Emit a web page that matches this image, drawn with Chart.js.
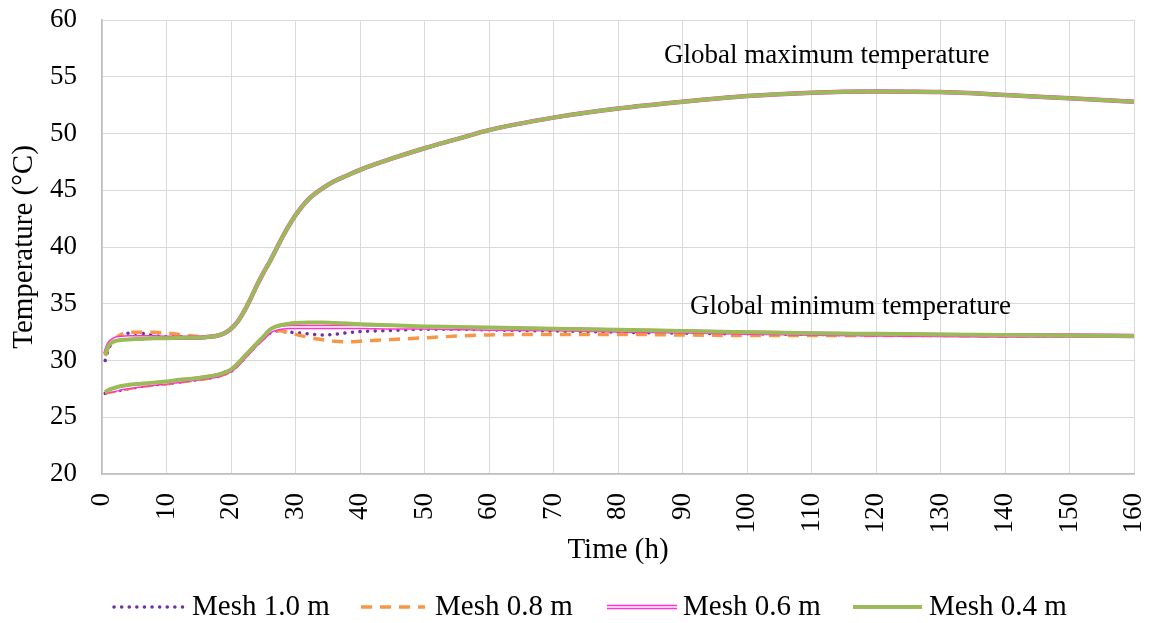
<!DOCTYPE html>
<html><head><meta charset="utf-8">
<script src="https://cdn.jsdelivr.net/npm/chart.js@4.4.1/dist/chart.umd.min.js"></script>
<style>html,body{margin:0;padding:0;background:#fff}canvas{display:block}</style>
</head><body>
<canvas id="c" width="1156" height="623"></canvas>
<script>
const hours = [0.5,1,2,3,4,6,8,10,12,14,16,18,19,20,21,22,23,24,25,26,27,28,29,30,32,34,36,38,40,45,50,55,60,70,80,90,100,110,120,130,140,150,160];
const xTickValues = [0,10,20,30,40,50,60,70,80,90,100,110,120,130,140,150,160];
const yTickValues = [20,25,30,35,40,45,50,55,60];
const seriesNames = ['Mesh 1.0 m','Mesh 0.8 m','Mesh 0.6 m','Mesh 0.4 m'];
const annotationMax = 'Global maximum temperature';
const annotationMin = 'Global minimum temperature';

const maxMesh10 = [30.0,31.0,31.8,32.2,32.4,32.4,32.2,32.1,32.1,32.05,32.1,32.2,32.4,32.8,33.4,34.3,35.4,36.6,37.7,38.7,39.8,40.9,41.9,42.8,44.2,45.1,45.8,46.3,46.8,47.8,48.7,49.5,50.3,51.4,52.2,52.8,53.3,53.6,53.7,53.65,53.4,53.1,52.8];
const maxMesh08 = [30.4,31.2,31.9,32.3,32.45,32.5,32.5,32.4,32.3,32.15,32.1,32.2,32.4,32.8,33.4,34.3,35.4,36.6,37.7,38.7,39.8,40.9,41.9,42.8,44.2,45.1,45.8,46.3,46.8,47.8,48.7,49.5,50.3,51.4,52.2,52.8,53.3,53.6,53.7,53.65,53.4,53.1,52.8];
const maxMesh06 = [30.6,31.4,31.9,32.0,32.05,32.05,32.05,32.0,32.0,32.0,32.05,32.2,32.4,32.8,33.4,34.3,35.4,36.6,37.7,38.7,39.8,40.9,41.9,42.8,44.2,45.1,45.8,46.3,46.8,47.8,48.7,49.5,50.3,51.4,52.2,52.8,53.3,53.6,53.7,53.65,53.4,53.1,52.8];
const maxMesh04 = [30.5,31.3,31.7,31.8,31.85,31.9,31.95,31.95,32.0,32.0,32.05,32.2,32.4,32.8,33.4,34.3,35.4,36.6,37.7,38.7,39.8,40.9,41.9,42.8,44.2,45.1,45.8,46.3,46.8,47.8,48.7,49.5,50.3,51.4,52.2,52.8,53.3,53.6,53.7,53.65,53.4,53.1,52.8];

const minMesh10 = [27.1,27.2,27.3,27.4,27.5,27.7,27.85,27.95,28.1,28.25,28.4,28.6,28.8,29.05,29.55,30.15,30.8,31.4,31.95,32.4,32.6,32.55,32.5,32.45,32.35,32.25,32.3,32.45,32.55,32.65,32.75,32.75,32.7,32.6,32.5,32.4,32.35,32.3,32.25,32.2,32.2,32.2,32.15];
const minMesh08 = [27.1,27.2,27.3,27.4,27.5,27.7,27.85,27.95,28.1,28.25,28.4,28.6,28.8,29.05,29.55,30.15,30.8,31.4,31.95,32.5,32.65,32.6,32.45,32.3,32.05,31.85,31.7,31.65,31.7,31.85,32.0,32.15,32.25,32.3,32.3,32.25,32.2,32.2,32.2,32.2,32.15,32.15,32.15];
const minMesh06 = [27.2,27.3,27.4,27.55,27.65,27.8,27.95,28.05,28.2,28.35,28.5,28.7,28.9,29.15,29.65,30.25,30.85,31.45,32.0,32.55,32.8,32.9,32.95,32.95,32.95,32.95,32.95,32.95,32.95,32.9,32.9,32.85,32.8,32.75,32.65,32.55,32.45,32.35,32.3,32.25,32.2,32.2,32.15];
const minMesh04 = [27.2,27.4,27.6,27.75,27.85,27.95,28.05,28.15,28.3,28.4,28.55,28.75,28.95,29.2,29.7,30.3,30.9,31.5,32.1,32.7,33.0,33.15,33.25,33.3,33.35,33.35,33.3,33.25,33.2,33.1,33.0,32.95,32.9,32.8,32.7,32.6,32.5,32.4,32.35,32.3,32.25,32.2,32.15];

const FONT = "'Liberation Serif', 'Times New Roman', serif";
const C10 = '#7030a0', C08 = '#f79646', C06 = '#ff33cc', C04 = '#9bbb59';

function pts(arr){ return hours.map((h,i)=>({x:h,y:arr[i]})); }
const base = {pointRadius:0, fill:false, cubicInterpolationMode:'monotone'};
const s10 = {borderColor:C10, borderWidth:3.5, borderDash:[0.1,7.5], borderCapStyle:'round', order:4};
const s08 = {borderColor:C08, borderWidth:3.5, borderDash:[11,8], borderCapStyle:'butt', order:3};
const s06 = {borderColor:C06, borderWidth:4.5, order:2};
const s06w = {borderColor:'#ffffff', borderWidth:1.5, order:1};
const s04 = {borderColor:C04, borderWidth:4, order:0};

const datasets = [
  Object.assign({label:seriesNames[0], data:pts(maxMesh10)}, base, s10),
  Object.assign({label:seriesNames[0], data:pts(minMesh10)}, base, s10),
  Object.assign({label:seriesNames[1], data:pts(maxMesh08)}, base, s08),
  Object.assign({label:seriesNames[1], data:pts(minMesh08)}, base, s08),
  Object.assign({label:seriesNames[2], data:pts(maxMesh06)}, base, s06),
  Object.assign({label:seriesNames[2], data:pts(minMesh06)}, base, s06),
  Object.assign({label:'', data:pts(maxMesh06)}, base, s06w),
  Object.assign({label:'', data:pts(minMesh06)}, base, s06w),
  Object.assign({label:seriesNames[3], data:pts(maxMesh04)}, base, s04),
  Object.assign({label:seriesNames[3], data:pts(minMesh04)}, base, s04)
];

const extras = {
  id:'extras',
  afterDraw(chart){
    const ctx = chart.ctx;
    ctx.save();
    ctx.fillStyle = '#000';
    ctx.textBaseline = 'middle';
    ctx.textAlign = 'left';
    ctx.font = '27px ' + FONT;
    ctx.fillText(annotationMax, 664, 56);
    ctx.fillText(annotationMin, 690, 307);
    const ly = 607;
    const items = [
      {x0:114, x1:183, tx:192, st:s10},
      {x0:361, x1:425, tx:435, st:s08},
      {x0:607, x1:677, tx:683, st:s06, dbl:true},
      {x0:853, x1:922, tx:929, st:s04}
    ];
    items.forEach((it,i)=>{
      ctx.save();
      ctx.strokeStyle = it.st.borderColor;
      ctx.lineWidth = it.st.borderWidth;
      ctx.setLineDash(it.st.borderDash || []);
      ctx.lineCap = it.st.borderCapStyle || 'butt';
      ctx.beginPath(); ctx.moveTo(it.x0, ly); ctx.lineTo(it.x1, ly); ctx.stroke();
      if (it.dbl){
        ctx.strokeStyle = '#fff'; ctx.lineWidth = 1.5;
        ctx.beginPath(); ctx.moveTo(it.x0, ly); ctx.lineTo(it.x1, ly); ctx.stroke();
      }
      ctx.restore();
      ctx.font = '29px ' + FONT;
      ctx.fillStyle = '#000';
      ctx.textAlign = 'left';
      ctx.textBaseline = 'middle';
      ctx.fillText(seriesNames[i], it.tx, ly);
    });
    ctx.restore();
  }
};

function zeroPad(s){ s.paddingLeft = 0; s.paddingRight = 0; s.paddingTop = 0; s.paddingBottom = 0; }

new Chart(document.getElementById('c'), {
  type:'line',
  data:{datasets},
  options:{
    responsive:false, animation:false, devicePixelRatio:1,
    layout:{padding:{left:0, right:22, top:20, bottom:0}},
    plugins:{legend:{display:false}, tooltip:{enabled:false}},
    scales:{
      x:{
        type:'linear', min:0, max:160,
        afterBuildTicks:s=>{ s.ticks = xTickValues.map(v=>({value:v})); },
        afterFit:s=>{ s.height = 149; zeroPad(s); },
        grid:{color:'#d9d9d9', lineWidth:1, drawTicks:false},
        border:{color:'#bfbfbf', width:1.5},
        ticks:{color:'#000', font:{family:FONT, size:27}, minRotation:90, maxRotation:90, padding:19, autoSkip:false},
        title:{display:true, text:'Time (h)', color:'#000', font:{family:FONT, size:29}, padding:{top:0, bottom:55}}
      },
      y:{
        type:'linear', min:20, max:60,
        afterBuildTicks:s=>{ s.ticks = yTickValues.map(v=>({value:v})); },
        afterFit:s=>{ s.width = 102; zeroPad(s); },
        grid:{color:'#d9d9d9', lineWidth:1, drawTicks:false},
        border:{color:'#bfbfbf', width:1.5},
        ticks:{color:'#000', font:{family:FONT, size:27}, padding:25},
        title:{display:true, text:'Temperature (°C)', color:'#000', font:{family:FONT, size:29}, padding:{top:7, bottom:0}}
      }
    }
  },
  plugins:[extras]
});
</script>
</body></html>
